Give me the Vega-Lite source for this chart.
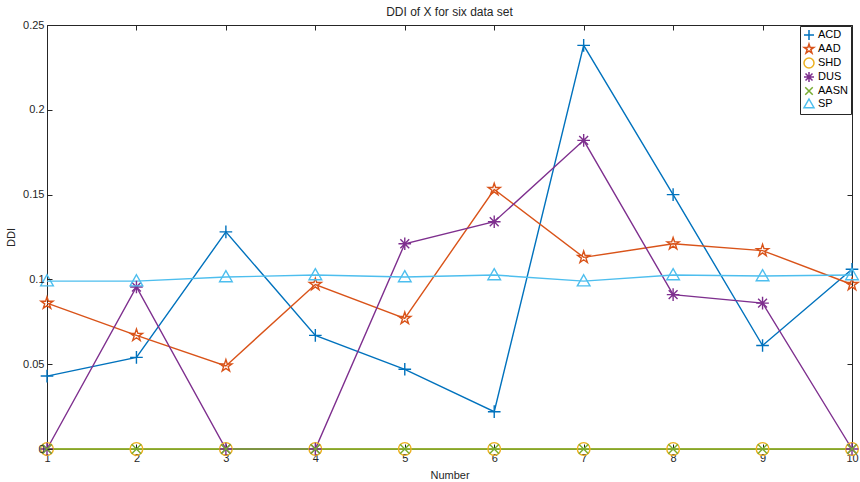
{
  "$schema": "https://vega.github.io/schema/vega-lite/v6.json",
  "autosize": {"type": "none"},
  "width": 805,
  "height": 424,
  "padding": {"left": 47, "top": 25, "right": 8, "bottom": 33},
  "background": "white",
  "config": {
    "font": "Liberation Sans",
    "view": {"stroke": "#262626", "strokeWidth": 1}
  },
  "title": {
    "text": "DDI of X for six data set",
    "fontSize": 12,
    "fontWeight": "normal",
    "color": "#262626",
    "offset": 3,
    "dy": 3,
    "anchor": "middle"
  },
  "data": {
    "values": [
      {"Number": 1, "series": "ACD", "DDI": 0.043},
      {"Number": 2, "series": "ACD", "DDI": 0.054},
      {"Number": 3, "series": "ACD", "DDI": 0.128},
      {"Number": 4, "series": "ACD", "DDI": 0.067},
      {"Number": 5, "series": "ACD", "DDI": 0.047},
      {"Number": 6, "series": "ACD", "DDI": 0.022},
      {"Number": 7, "series": "ACD", "DDI": 0.238},
      {"Number": 8, "series": "ACD", "DDI": 0.150},
      {"Number": 9, "series": "ACD", "DDI": 0.061},
      {"Number": 10, "series": "ACD", "DDI": 0.106},
      {"Number": 1, "series": "AAD", "DDI": 0.086},
      {"Number": 2, "series": "AAD", "DDI": 0.067},
      {"Number": 3, "series": "AAD", "DDI": 0.049},
      {"Number": 4, "series": "AAD", "DDI": 0.097},
      {"Number": 5, "series": "AAD", "DDI": 0.077},
      {"Number": 6, "series": "AAD", "DDI": 0.153},
      {"Number": 7, "series": "AAD", "DDI": 0.113},
      {"Number": 8, "series": "AAD", "DDI": 0.121},
      {"Number": 9, "series": "AAD", "DDI": 0.117},
      {"Number": 10, "series": "AAD", "DDI": 0.097},
      {"Number": 1, "series": "SHD", "DDI": 0},
      {"Number": 2, "series": "SHD", "DDI": 0},
      {"Number": 3, "series": "SHD", "DDI": 0},
      {"Number": 4, "series": "SHD", "DDI": 0},
      {"Number": 5, "series": "SHD", "DDI": 0},
      {"Number": 6, "series": "SHD", "DDI": 0},
      {"Number": 7, "series": "SHD", "DDI": 0},
      {"Number": 8, "series": "SHD", "DDI": 0},
      {"Number": 9, "series": "SHD", "DDI": 0},
      {"Number": 10, "series": "SHD", "DDI": 0},
      {"Number": 1, "series": "DUS", "DDI": 0},
      {"Number": 2, "series": "DUS", "DDI": 0.0955},
      {"Number": 3, "series": "DUS", "DDI": 0},
      {"Number": 4, "series": "DUS", "DDI": 0},
      {"Number": 5, "series": "DUS", "DDI": 0.121},
      {"Number": 6, "series": "DUS", "DDI": 0.134},
      {"Number": 7, "series": "DUS", "DDI": 0.182},
      {"Number": 8, "series": "DUS", "DDI": 0.091},
      {"Number": 9, "series": "DUS", "DDI": 0.086},
      {"Number": 10, "series": "DUS", "DDI": 0},
      {"Number": 1, "series": "AASN", "DDI": 0},
      {"Number": 2, "series": "AASN", "DDI": 0},
      {"Number": 3, "series": "AASN", "DDI": 0},
      {"Number": 4, "series": "AASN", "DDI": 0},
      {"Number": 5, "series": "AASN", "DDI": 0},
      {"Number": 6, "series": "AASN", "DDI": 0},
      {"Number": 7, "series": "AASN", "DDI": 0},
      {"Number": 8, "series": "AASN", "DDI": 0},
      {"Number": 9, "series": "AASN", "DDI": 0},
      {"Number": 10, "series": "AASN", "DDI": 0},
      {"Number": 1, "series": "SP", "DDI": 0.099},
      {"Number": 2, "series": "SP", "DDI": 0.099},
      {"Number": 3, "series": "SP", "DDI": 0.1014},
      {"Number": 4, "series": "SP", "DDI": 0.1026},
      {"Number": 5, "series": "SP", "DDI": 0.1014},
      {"Number": 6, "series": "SP", "DDI": 0.1026},
      {"Number": 7, "series": "SP", "DDI": 0.099},
      {"Number": 8, "series": "SP", "DDI": 0.1026},
      {"Number": 9, "series": "SP", "DDI": 0.102},
      {"Number": 10, "series": "SP", "DDI": 0.1026}
    ]
  },
  "layer": [
    {
      "encoding": {
        "x": {
          "field": "Number", "type": "quantitative",
          "scale": {"domain": [1, 10], "nice": false, "zero": false},
          "axis": {
            "orient": "bottom", "title": "Number", "values": [1,2,3,4,5,6,7,8,9,10], "format": "d",
            "grid": false, "domain": false, "tickSize": -5, "tickColor": "#262626",
            "labelFlush": false, "labelOverlap": false,
            "labelPadding": 8, "labelFontSize": 11, "labelColor": "#262626",
            "titleFontSize": 11, "titleFontWeight": "normal", "titleColor": "#262626", "titlePadding": 6
          }
        },
        "y": {
          "field": "DDI", "type": "quantitative",
          "scale": {"domain": [0, 0.25], "nice": false},
          "axis": {
            "orient": "left", "title": "DDI", "values": [0, 0.05, 0.1, 0.15, 0.2, 0.25], "format": "~g",
            "grid": false, "domain": false, "tickSize": -5, "tickColor": "#262626",
            "labelFlush": false, "labelOverlap": false, "labelBound": false, "zindex": 1,
            "labelPadding": 8, "labelFontSize": 11, "labelColor": "#262626",
            "titleFontSize": 11, "titleFontWeight": "normal", "titleColor": "#262626", "titlePadding": 6
          }
        },
        "color": {
          "field": "series", "type": "nominal",
          "scale": {
            "domain": ["ACD", "AAD", "SHD", "DUS", "AASN", "SP"],
            "range": ["#0072BD", "#D95319", "#EDB120", "#7E2F8E", "#77AC30", "#4DBEEE"]
          },
          "legend": {
            "title": null, "orient": "top-right", "offset": 1,
            "strokeColor": "#262626", "fillColor": "white", "padding": 3,
            "labelFontSize": 11, "labelColor": "#000000", "symbolSize": 100,
            "symbolStrokeWidth": 1.5, "rowPadding": -2, "labelOffset": 3
          }
        }
      },
      "layer": [
        {
          "mark": {"type": "line", "strokeWidth": 1.4},
          "encoding": {}
        },
        {
          "mark": {"type": "point", "filled": false, "strokeWidth": 1.4, "size": 160, "opacity": 1},
          "encoding": {
            "shape": {
              "field": "series", "type": "nominal",
              "scale": {
                "domain": ["ACD", "AAD", "SHD", "DUS", "AASN", "SP"],
                "range": [
                  "M-1,0L1,0M0,-1L0,1",
                  "M0,-1L0.2245,-0.309L0.951,-0.309L0.363,0.118L0.588,0.809L0,0.382L-0.588,0.809L-0.363,0.118L-0.951,-0.309L-0.2245,-0.309Z",
                  "circle",
                  "M-1,0L1,0M0,-1L0,1M-0.7,-0.7L0.7,0.7M-0.7,0.7L0.7,-0.7",
                  "M-0.75,-0.75L0.75,0.75M-0.75,0.75L0.75,-0.75",
                  "M0,-1L1,0.75L-1,0.75Z"
                ]
              },
              "legend": {
                "title": null, "orient": "top-right", "offset": 1,
                "strokeColor": "#262626", "fillColor": "white", "padding": 3,
                "labelFontSize": 11, "labelColor": "#000000", "symbolSize": 100,
                "symbolStrokeWidth": 1.5, "rowPadding": -2, "labelOffset": 3
              }
            }
          }
        }
      ]
    },
    {
      "mark": {"type": "point", "opacity": 0},
      "encoding": {
        "x": {
          "field": "Number", "type": "quantitative",
          "axis": {"orient": "top", "title": null, "labels": false, "domain": false, "grid": false,
                   "values": [1,2,3,4,5,6,7,8,9,10], "tickSize": -5, "tickColor": "#262626"}
        },
        "y": {
          "field": "DDI", "type": "quantitative",
          "axis": {"orient": "right", "title": null, "labels": false, "domain": false, "grid": false,
                   "values": [0, 0.05, 0.1, 0.15, 0.2, 0.25], "tickSize": -5, "tickColor": "#262626"}
        }
      }
    }
  ],
  "resolve": {"axis": {"x": "independent", "y": "independent"}}
}
